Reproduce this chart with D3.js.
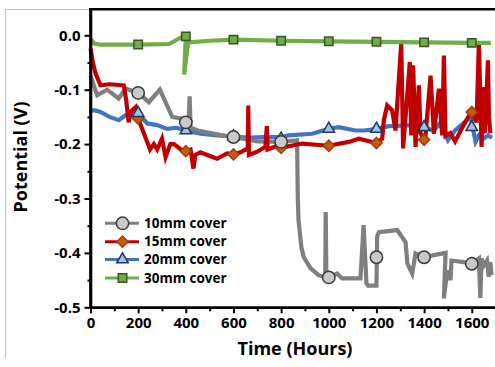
<!DOCTYPE html>
<html>
<head>
<meta charset="utf-8">
<script src="https://d3js.org/d3.v7.min.js"></script>
<style>
  body { margin: 0; background: #fff; }
  text { font-family: "Open Sans", sans-serif; font-weight: bold; }
</style>
</head>
<body>
<div class="chart"></div>
<script>
// Data (hours, volts)
var gray10 = [[0,-0.074],[28,-0.11],[70,-0.10],[118,-0.116],[147,-0.098],[200,-0.106],[245,-0.123],[291,-0.10],[343,-0.15],[378,-0.153],[400,-0.16],[412,-0.16],[416,-0.112],[420,-0.17],[450,-0.175],[580,-0.186],[600,-0.187],[700,-0.195],[800,-0.196],[867,-0.193],[870,-0.30],[873,-0.34],[885,-0.39],[895,-0.408],[923,-0.428],[957,-0.441],[985,-0.445],[987,-0.325],[990,-0.445],[1000,-0.445],[1035,-0.438],[1056,-0.447],[1133,-0.447],[1146,-0.349],[1158,-0.456],[1165,-0.46],[1200,-0.46],[1203,-0.37],[1210,-0.362],[1287,-0.358],[1322,-0.38],[1330,-0.42],[1350,-0.438],[1364,-0.401],[1400,-0.409],[1441,-0.404],[1490,-0.40],[1483,-0.484],[1497,-0.432],[1511,-0.45],[1515,-0.414],[1566,-0.417],[1600,-0.42],[1630,-0.41],[1636,-0.483],[1641,-0.41],[1651,-0.423],[1664,-0.414],[1671,-0.444],[1678,-0.417],[1683,-0.441]];

var red15 = [[0,-0.024],[10,-0.05],[21,-0.07],[42,-0.092],[80,-0.09],[140,-0.092],[150,-0.12],[160,-0.16],[170,-0.14],[190,-0.132],[200,-0.153],[224,-0.18],[250,-0.21],[266,-0.2],[280,-0.21],[300,-0.19],[315,-0.224],[335,-0.2],[350,-0.2],[380,-0.21],[400,-0.213],[420,-0.21],[432,-0.245],[440,-0.22],[461,-0.215],[490,-0.22],[531,-0.227],[573,-0.217],[600,-0.219],[629,-0.215],[660,-0.208],[662,-0.129],[665,-0.22],[700,-0.214],[734,-0.205],[740,-0.167],[743,-0.21],[790,-0.202],[800,-0.207],[888,-0.199],[1000,-0.203],[1084,-0.196],[1126,-0.19],[1200,-0.198],[1224,-0.19],[1231,-0.156],[1245,-0.129],[1266,-0.138],[1280,-0.175],[1304,-0.014],[1312,-0.208],[1340,-0.049],[1346,-0.184],[1354,-0.055],[1364,-0.205],[1378,-0.092],[1385,-0.18],[1400,-0.192],[1406,-0.184],[1427,-0.074],[1441,-0.181],[1462,-0.098],[1476,-0.184],[1483,-0.037],[1490,-0.185],[1510,-0.18],[1530,-0.195],[1560,-0.17],[1585,-0.15],[1600,-0.141],[1620,-0.16],[1630,-0.012],[1641,-0.205],[1650,-0.095],[1655,-0.18],[1668,-0.046],[1672,-0.15],[1678,-0.18]];

var blue20 = [[0,-0.138],[20,-0.138],[42,-0.141],[80,-0.15],[119,-0.156],[147,-0.147],[175,-0.145],[200,-0.143],[238,-0.162],[280,-0.165],[322,-0.172],[360,-0.17],[400,-0.175],[461,-0.181],[532,-0.184],[600,-0.186],[664,-0.188],[734,-0.187],[800,-0.187],[832,-0.184],[930,-0.181],[1000,-0.172],[1042,-0.169],[1112,-0.175],[1150,-0.175],[1200,-0.172],[1252,-0.167],[1350,-0.165],[1400,-0.169],[1441,-0.175],[1465,-0.162],[1500,-0.193],[1530,-0.175],[1595,-0.15],[1616,-0.196],[1630,-0.184],[1650,-0.19],[1668,-0.184],[1685,-0.188]];

var green30 = [[0,-0.007],[15,-0.015],[40,-0.017],[200,-0.017],[330,-0.016],[380,-0.004],[400,-0.002],[393,-0.072],[410,-0.013],[500,-0.010],[600,-0.008],[800,-0.010],[1000,-0.011],[1200,-0.012],[1400,-0.013],[1600,-0.014],[1680,-0.014]];

// Marker positions every 200 hours
var markerHours = [200, 400, 600, 800, 1000, 1200, 1400, 1600];
var gray10Marks = [-0.106, -0.16, -0.187, -0.196, -0.445, -0.408, -0.408, -0.42];
var red15Marks = [-0.153, -0.213, -0.219, -0.207, -0.203, -0.198, -0.192, -0.141];
var blue20Marks = [-0.143, -0.175, -0.186, -0.19, -0.172, -0.172, -0.169, -0.169];
var green30Marks = [-0.017, -0.002, -0.008, -0.010, -0.011, -0.012, -0.013, -0.014];

var xTicks = [0, 200, 400, 600, 800, 1000, 1200, 1400, 1600];
var xMinor = [100, 300, 500, 700, 900, 1100, 1300, 1500, 1700];
var yTicks = [-0.5, -0.4, -0.3, -0.2, -0.1, 0.0];
var yMinor = [-0.45, -0.35, -0.25, -0.15, -0.05];
var legendNames = ["10mm cover", "15mm cover", "20mm cover", "30mm cover"];

var width = 495, height = 367;

var svg = d3.select(".chart")
    .append("svg")
    .attr("width", width)
    .attr("height", height);

var x = d3.scaleLinear().domain([0, 1700]).range([90.5, 495.6]);
var y = d3.scaleLinear().domain([-0.5, 0.05]).range([307.3, 8.1]);

// light frame of the original figure
svg.append("path")
    .attr("d", "M5.5,358V9.5H90")
    .attr("fill", "none")
    .attr("stroke", "#c4c4c4")
    .attr("stroke-width", 1.2);

// top border
svg.append("line")
    .attr("x1", 89).attr("x2", 495)
    .attr("y1", 9.3).attr("y2", 9.3)
    .attr("stroke", "#000")
    .attr("stroke-width", 2.6);

var line = d3.line()
    .x(d => x(d[0]))
    .y(d => y(d[1]));

var series = [
    { data: blue20, color: "#4472c4" },
    { data: gray10, color: "#7f7f7f" },
    { data: red15, color: "#c00000" },
    { data: green30, color: "#70ad47" }
];

series.forEach(s => {
    svg.append("path")
        .datum(s.data)
        .attr("d", line)
        .attr("fill", "none")
        .attr("stroke", s.color)
        .attr("stroke-width", 4.2)
        .attr("stroke-linejoin", "miter")
        .attr("stroke-miterlimit", 4);
});

// marker shapes
var sym = {
    circle: d3.symbol().type(d3.symbolCircle).size(120),
    diamond: d3.symbol().type(d3.symbolDiamond2).size(80),
    triangle: d3.symbol().type(d3.symbolTriangle2).size(95),
    square: d3.symbol().type(d3.symbolSquare2).size(90)
};
var markerStyles = [
    { marks: red15Marks, shape: sym.diamond, fill: "#c55a11", stroke: "#9c4306" },
    { marks: blue20Marks, shape: sym.triangle, fill: "#9dc3e6", stroke: "#1f3864" },
    { marks: gray10Marks, shape: sym.circle, fill: "#c9c9c9", stroke: "#3b3b3b" },
    { marks: green30Marks, shape: sym.square, fill: "#70ad47", stroke: "#375623" }
];

markerStyles.forEach(m => {
    svg.append("g")
        .selectAll("path")
        .data(markerHours)
        .join("path")
        .attr("transform", (d, i) => "translate(" + x(d) + "," + y(m.marks[i]) + ")")
        .attr("d", m.shape)
        .attr("fill", m.fill)
        .attr("stroke", m.stroke)
        .attr("stroke-width", 1.5);
});

// axes
svg.append("g")
    .attr("transform", "translate(0,307.3)")
    .call(d3.axisBottom(x).tickValues(xTicks).tickSize(6).tickSizeOuter(0).tickPadding(4)
        .tickFormat(d3.format("d")));

svg.append("g")
    .attr("transform", "translate(0,307.3)")
    .call(d3.axisBottom(x).tickValues(xMinor).tickSize(4).tickSizeOuter(0).tickFormat(""));

var yAxis = svg.append("g")
    .attr("transform", "translate(90.5,0)")
    .call(d3.axisLeft(y).tickValues(yTicks).tickSize(6).tickSizeOuter(0).tickPadding(4)
        .tickFormat(d => d.toFixed(1)));

svg.append("g")
    .attr("transform", "translate(90.5,0)")
    .call(d3.axisLeft(y).tickValues(yMinor).tickSize(3).tickSizeOuter(0).tickFormat(""));

svg.selectAll(".domain")
    .attr("stroke", "#000")
    .attr("stroke-width", 2.6);
svg.selectAll(".tick line")
    .attr("stroke", "#000")
    .attr("stroke-width", 2);
svg.selectAll(".tick text")
    .attr("fill", "#000")
    .style("font-size", "15px")
    .style("font-family", "'Open Sans', sans-serif")
    .style("font-weight", "bold");

// left axis spans up to the top border
yAxis.select(".domain").attr("d", "M0,8V307.3");

// axis titles
svg.append("text")
    .attr("x", 295)
    .attr("y", 355)
    .attr("text-anchor", "middle")
    .style("font-size", "18px")
    .text("Time (Hours)");

svg.append("text")
    .attr("transform", "translate(27,157) rotate(-90)")
    .attr("text-anchor", "middle")
    .style("font-size", "18px")
    .text("Potential (V)");

// legend
var legendShapes = [markerStyles[2], markerStyles[0], markerStyles[1], markerStyles[3]];
var legendColors = ["#7f7f7f", "#c00000", "#4472c4", "#70ad47"];
var legendY = [223.3, 241.7, 259.5, 278];

var legend = svg.append("g")
    .selectAll("g")
    .data(legendNames)
    .join("g")
    .attr("transform", (d, i) => "translate(0," + legendY[i] + ")");

legend.append("line")
    .attr("x1", 105).attr("x2", 139)
    .attr("stroke", (d, i) => legendColors[i])
    .attr("stroke-width", 3);

legend.append("path")
    .attr("transform", "translate(122.5,0)")
    .attr("d", (d, i) => legendShapes[i].shape())
    .attr("fill", (d, i) => legendShapes[i].fill)
    .attr("stroke", (d, i) => legendShapes[i].stroke)
    .attr("stroke-width", 1.5);

legend.append("text")
    .attr("x", 144)
    .attr("dy", "0.35em")
    .style("font-size", "13.5px")
    .text(d => d);
</script>
</body>
</html>
